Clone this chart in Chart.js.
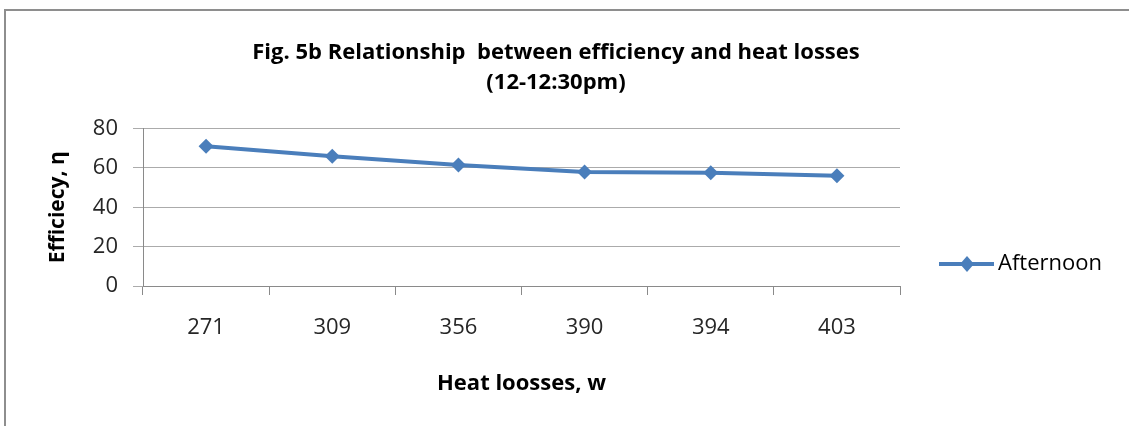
<!DOCTYPE html>
<html>
<head>
<meta charset="utf-8">
<script src="https://cdn.jsdelivr.net/npm/chart.js@4.4.0/dist/chart.umd.min.js"></script>
<style>
  html, body { margin: 0; padding: 0; background: #fff; }
  #wrap { position: relative; width: 1129px; height: 426px; overflow: hidden; }
  #frame { position: absolute; left: 4px; top: 9px; width: 1200px; height: 500px;
           border-top: 2px solid #8e8e8e; border-left: 2px solid #8e8e8e; }
  canvas { position: absolute; left: 0; top: 0; }
</style>
</head>
<body>
<div id="wrap"><div id="frame"></div><canvas id="effChart" width="1129" height="426"></canvas></div>
<script>
// ── Fig. 5b – efficiency vs heat losses (12-12:30pm) ──
const heatLosses = ['271', '309', '356', '390', '394', '403'];
const afternoon  = [71, 66, 61.5, 58, 57.5, 56];
const yMin = 0, yMax = 80, yStep = 20;

const FONT = "'Open Sans'";
const FS = 22;
const BLUE = '#4a7ebb';

// legend marker: line with diamond (drawn offset inside a wider image)
const mark = document.createElement('canvas');
mark.width = 90; mark.height = 20;
const mc = mark.getContext('2d');
mc.strokeStyle = BLUE; mc.lineWidth = 4;
mc.beginPath(); mc.moveTo(35, 10); mc.lineTo(90, 10); mc.stroke();
mc.fillStyle = BLUE;
mc.beginPath(); mc.moveTo(63, 2); mc.lineTo(70, 10); mc.lineTo(63, 18); mc.lineTo(56, 10); mc.closePath(); mc.fill();

// size the right padding so the plot ends where the reference's does
const ctx = document.getElementById('effChart').getContext('2d');
ctx.font = FS + 'px ' + FONT;
const legendTextW = ctx.measureText('Afternoon').width;
const padRight = Math.max(0, 1129 - 900 - (11 + 76 + FS / 2 + legendTextW + 10));

new Chart(ctx, {
  type: 'line',
  data: {
    labels: heatLosses,
    datasets: [{
      label: 'Afternoon',
      data: afternoon,
      borderColor: BLUE, borderWidth: 4,
      backgroundColor: BLUE,
      pointStyle: 'rectRot', pointRadius: 7.5, pointBorderWidth: 0,
      pointBackgroundColor: BLUE, tension: 0, fill: false
    }]
  },
  options: {
    responsive: false,
    animation: false,
    layout: { padding: { left: 0, top: 0, bottom: 0, right: padRight } },
    plugins: {
      tooltip: { enabled: false },
      title: {
        display: true,
        text: ['Fig. 5b Relationship  between efficiency and heat losses', '(12-12:30pm)'],
        color: '#000',
        font: { family: FONT, size: FS, weight: 'bold', lineHeight: 1.4 },
        padding: { top: 37, bottom: 30 }
      },
      legend: {
        position: 'right', align: 'end', fullSize: false,
        labels: {
          usePointStyle: true, pointStyle: mark, pointStyleWidth: 76,
          padding: 11, color: '#000',
          font: { family: FONT, size: FS }
        }
      }
    },
    scales: {
      x: {
        offset: true,
        afterFit: s => { s.height = 140; },
        grid: { drawOnChartArea: false, drawTicks: true, tickLength: 9, color: '#8a8a8a', offset: true },
        border: { color: '#8a8a8a' },
        ticks: { font: { family: FONT, size: FS }, color: '#262626', padding: 20 },
        title: { display: true, text: 'Heat loosses, w', color: '#000',
                 font: { family: FONT, size: FS, weight: 'bold' }, padding: { bottom: 29 } }
      },
      y: {
        min: yMin, max: yMax,
        afterFit: s => { s.width = 143; },
        grid: { color: '#ababab', tickLength: 10 },
        border: { color: '#8a8a8a' },
        ticks: { stepSize: yStep, font: { family: FONT, size: FS }, color: '#262626', padding: 15 },
        title: { display: true, text: 'Efficiecy, η', color: '#000',
                 font: { family: FONT, size: 21, weight: 'bold' }, padding: { top: 45 } }
      }
    }
  }
});
</script>
</body>
</html>
